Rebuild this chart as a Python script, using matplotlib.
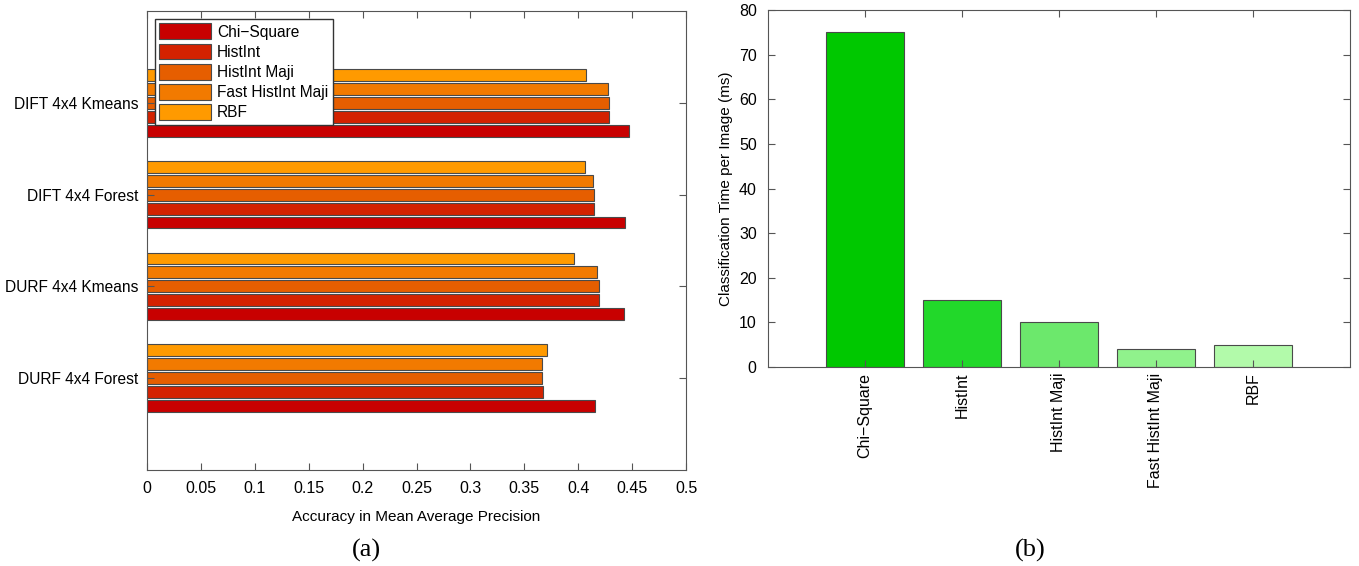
import matplotlib
matplotlib.use("Agg")
import matplotlib.pyplot as plt
import numpy as np

plt.rcParams["font.family"] = ["Liberation Sans", "DejaVu Sans"]

# (a) accuracy per feature setup, one list per kernel
setups = ["DURF 4x4 Forest", "DURF 4x4 Kmeans", "DIFT 4x4 Forest", "DIFT 4x4 Kmeans"]
kernels = ["Chi\u2212Square", "HistInt", "HistInt Maji", "Fast HistInt Maji", "RBF"]
acc_chi = [0.416, 0.442, 0.443, 0.447]
acc_histint = [0.367, 0.419, 0.415, 0.429]
acc_maji = [0.3665, 0.419, 0.415, 0.429]
acc_fast_maji = [0.366, 0.4175, 0.414, 0.4275]
acc_rbf = [0.371, 0.396, 0.406, 0.407]
x_ticks_a = [0, 0.05, 0.1, 0.15, 0.2, 0.25, 0.3, 0.35, 0.4, 0.45, 0.5]

# (b) classification time
times_ms = [75, 15, 10, 4, 5]
y_ticks_b = [0, 10, 20, 30, 40, 50, 60, 70, 80]

red_colors = ["#C80000", "#D42200", "#E65E00", "#F27A00", "#FF9A00"]
green_colors = ["#00C800", "#22D82A", "#6CE86C", "#90F28C", "#B2FAAA"]

fig = plt.figure(figsize=(13.59, 5.66), dpi=100)
ax_a = fig.add_axes([0.1082, 0.1696, 0.5048 - 0.1082, 0.9806 - 0.1696])
ax_b = fig.add_axes([0.565, 0.3516, 0.9934 - 0.565, 0.9823 - 0.3516])

# panel (a)
series = [acc_chi, acc_histint, acc_maji, acc_fast_maji, acc_rbf]
y = np.arange(1, len(setups) + 1)
step = 0.152
height = 0.13
for i, (vals, name, color) in enumerate(zip(series, kernels, red_colors)):
    ax_a.barh(y + (i - 2) * step, vals, height, color=color, label=name,
              edgecolor="#4a4a4a", linewidth=0.8)

ax_a.set_xlim(0, 0.5)
ax_a.set_ylim(0, 5)
ax_a.set_xticks(x_ticks_a)
ax_a.set_xticklabels([f"{t:g}" for t in x_ticks_a])
ax_a.set_yticks(y)
ax_a.set_yticklabels(setups)
ax_a.set_xlabel("Accuracy in Mean Average Precision", fontsize=11, labelpad=10)
ax_a.legend(loc="upper left", fontsize=11.2, fancybox=False, edgecolor="#333333",
            framealpha=1, handlelength=3.3, handleheight=1.2, labelspacing=0.25,
            borderaxespad=0.5, borderpad=0.3, handletextpad=0.4)

# panel (b)
xb = np.arange(1, len(kernels) + 1)
ax_b.bar(xb, times_ms, 0.8, color=green_colors, edgecolor="#4a4a4a", linewidth=0.8)
ax_b.set_xlim(0, 6)
ax_b.set_ylim(0, 80)
ax_b.set_yticks(y_ticks_b)
ax_b.set_xticks(xb)
ax_b.set_xticklabels(kernels, rotation=90)
ax_b.set_ylabel("Classification Time per Image (ms)", fontsize=11)

for ax in (ax_a, ax_b):
    ax.tick_params(direction="in", top=True, right=True, labelsize=11.5,
                   length=5, color="#555555", pad=8)
    for sp in ax.spines.values():
        sp.set_color("#555555")
        sp.set_linewidth(0.8)
ax_a.tick_params(axis="y", pad=6, labelsize=11.2)
ax_b.tick_params(axis="x", pad=4)

fig.text(366 / 1359, 1 - 550 / 566, "(a)", family="Liberation Serif",
         fontsize=19, ha="center", va="center")
fig.text(1030 / 1359, 1 - 550 / 566, "(b)", family="Liberation Serif",
         fontsize=19, ha="center", va="center")

fig.savefig("out.png", dpi=100)
